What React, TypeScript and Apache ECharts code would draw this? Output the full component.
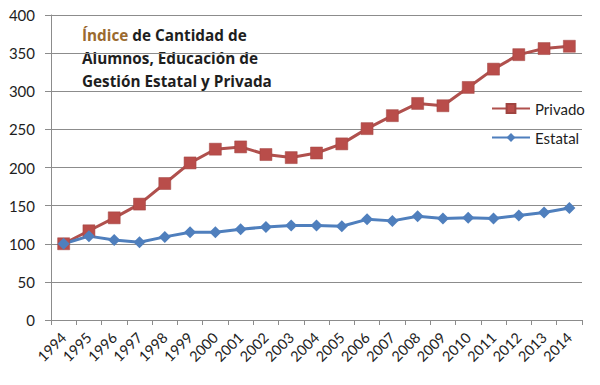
import React, { useEffect, useRef } from "react";
import * as echarts from "echarts";

const years = ["1994","1995","1996","1997","1998","1999","2000","2001","2002","2003","2004","2005","2006","2007","2008","2009","2010","2011","2012","2013","2014"];
const privado = [100, 117, 134, 152, 179, 206, 224, 227, 217, 213, 219, 231, 251, 268, 284, 281, 305, 329, 348, 356, 359];
const estatal = [100, 110, 105, 102, 109, 115, 115, 119, 122, 124, 124, 123, 132, 130, 136, 133, 134, 133, 137, 141, 147];
const yTicks = { min: 0, max: 400, interval: 50 };

export default function App() {
  const ref = useRef<HTMLDivElement>(null);
  useEffect(() => {
    const chart = echarts.init(ref.current!, undefined, { renderer: "svg" });
    const font = "Lato, 'Open Sans', sans-serif";
    const tfont = "'Open Sans', Lato, sans-serif";
    chart.setOption({
      animation: false,
      backgroundColor: "#ffffff",
      textStyle: { fontFamily: font },
      grid: { left: 51, right: 18, top: 15, bottom: 65, containLabel: false },
      graphic: [
        {
          type: "text",
          left: 82,
          top: 23,
          style: {
            text: "{a|Índice} de Cantidad de\nAlumnos, Educación de\nGestión Estatal y Privada",
            font: "bold 15.3px " + tfont,
            fill: "#1e1e1e",
            lineHeight: 23,
            rich: {
              a: { fill: "#9a6a2f", font: "bold 15.3px " + tfont, lineHeight: 23 },
            },
          },
        },
      ],
      legend: {
        orient: "vertical",
        left: 486,
        top: 96,
        itemWidth: 38,
        itemHeight: 11,
        itemGap: 14,
        textStyle: { fontSize: 15, color: "#1e1e1e", fontFamily: font },
        data: ["Privado", "Estatal"],
      },
      xAxis: {
        type: "category",
        data: years,
        boundaryGap: true,
        axisLine: { lineStyle: { color: "#8c8c8c", width: 1 } },
        axisTick: { show: true, length: 5, lineStyle: { color: "#8c8c8c" } },
        axisLabel: { rotate: 45, fontSize: 14.5, color: "#1e1e1e", margin: 15, interval: 0 },
        splitLine: { show: false },
      },
      yAxis: {
        type: "value",
        min: yTicks.min,
        max: yTicks.max,
        interval: yTicks.interval,
        axisLine: { show: true, lineStyle: { color: "#8c8c8c", width: 1 } },
        axisTick: { show: true, length: 6, lineStyle: { color: "#8c8c8c" } },
        axisLabel: { fontSize: 15, color: "#1e1e1e", margin: 16 },
        splitLine: { lineStyle: { color: "#8c8c8c", width: 1 } },
      },
      series: [
        {
          name: "Privado",
          type: "line",
          data: privado,
          symbol: "rect",
          symbolSize: 12,
          lineStyle: { color: "#b0504d", width: 3 },
          itemStyle: { color: "#b94d4a", borderColor: "#a04440", borderWidth: 0.5 },
        },
        {
          name: "Estatal",
          type: "line",
          data: estatal,
          symbol: "diamond",
          symbolSize: 12,
          lineStyle: { color: "#4f7fbd", width: 3 },
          itemStyle: { color: "#4f7fbd" },
        },
      ],
    });
    return () => chart.dispose();
  }, []);
  return <div ref={ref} style={{ position: "fixed", left: 0, top: 0, width: 600, height: 385 }} />;
}
